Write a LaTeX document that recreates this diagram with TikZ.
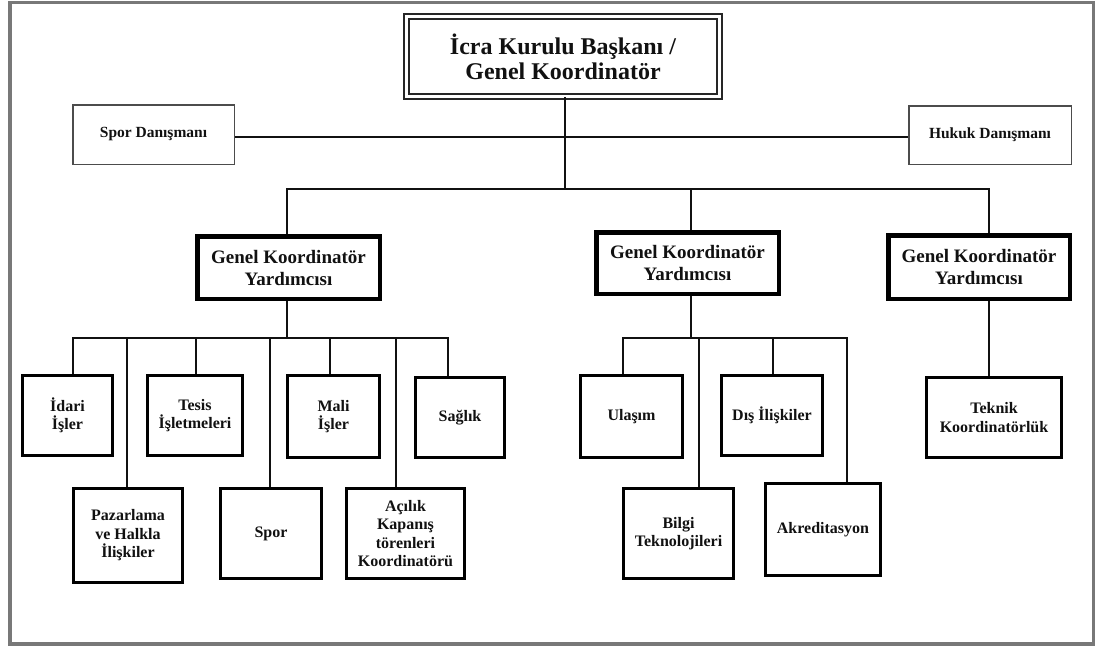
\documentclass[tikz,border=0pt]{standalone}
\usepackage{fontspec}
\setmainfont{Liberation Serif}
\definecolor{framecol}{RGB}{120,120,120}
\definecolor{inkcol}{RGB}{17,17,17}
\begin{document}
\begin{tikzpicture}[x=1pt,y=-1pt,
  conn/.style={draw=inkcol, line width=2pt, line join=miter},
  topbox/.style={draw=black!85, line width=2.2pt, double=white, double distance=3pt,
    align=center, inner sep=0pt, text=inkcol, font=\fontsize{24}{25}\selectfont\bfseries},
  advbox/.style={draw=black!70, line width=1.5pt, inner sep=0pt, text=inkcol,
    font=\fontsize{15.5}{18}\selectfont\bfseries},
  gkybox/.style={draw=black, line width=4.5pt, align=center, inner sep=0pt, text=inkcol,
    font=\fontsize{19}{22}\selectfont\bfseries},
  unitbox/.style={draw=black, line width=3pt, align=center, inner sep=0pt, text=inkcol,
    font=\fontsize{16}{18.5}\selectfont\bfseries}]
\useasboundingbox (0,0) rectangle (1096,648);
\fill[white] (0,0) rectangle (1096,648);
\draw[framecol, line width=3.5pt] (10,2.5) rectangle (1093.5,644);

% top
\node[topbox, minimum width=312.6pt, minimum height=79.6pt] (top) at (563,56.5)
  {İcra Kurulu Başkanı /\\Genel Koordinatör};
\node[advbox, minimum width=161.5pt, minimum height=59.5pt] (spor) at (153.5,134.5) {Spor Danışmanı};
\node[advbox, minimum width=162.5pt, minimum height=58.5pt] (hukuk) at (990,135) {Hukuk Danışmanı};

% deputies
\node[gkybox, minimum width=182.5pt, minimum height=62.5pt] (gky1) at (288.5,267.5) {Genel Koordinatör\\Yardımcısı};
\node[gkybox, minimum width=182.5pt, minimum height=61.5pt] (gky2) at (687.5,263) {Genel Koordinatör\\Yardımcısı};
\node[gkybox, minimum width=181.5pt, minimum height=63.5pt] (gky3) at (979,267) {Genel Koordinatör\\Yardımcısı};

% units under gky1
\node[unitbox, minimum width=90pt, minimum height=80pt] (idari) at (67.5,415.5) {İdari\\İşler};
\node[unitbox, minimum width=95pt, minimum height=80pt] (tesis) at (195,415.5) {Tesis\\İşletmeleri};
\node[unitbox, minimum width=92pt, minimum height=82pt] (mali) at (333.5,416.5) {Mali\\İşler};
\node[unitbox, minimum width=89pt, minimum height=80pt] (saglik) at (460,417.5) {Sağlık};
\node[unitbox, minimum width=109pt, minimum height=94pt] (pazar) at (128,535.5) {Pazarlama\\ve Halkla\\İlişkiler};
\node[unitbox, minimum width=101pt, minimum height=90pt] (sporu) at (271,533.5) {Spor};
\node[unitbox, minimum width=118pt, minimum height=90pt] (acilik) at (405.5,533.5) {Açılık\\Kapanış\\törenleri\\Koordinatörü};

% units under gky2
\node[unitbox, minimum width=102pt, minimum height=82pt] (ulasim) at (631.5,416.5) {Ulaşım};
\node[unitbox, minimum width=101pt, minimum height=80pt] (dis) at (772,415.5) {Dış İlişkiler};
\node[unitbox, minimum width=110pt, minimum height=90pt] (bilgi) at (678.5,533.5) {Bilgi\\Teknolojileri};
\node[unitbox, minimum width=115pt, minimum height=92pt] (akred) at (823,529.5) {Akreditasyon};

% unit under gky3
\node[unitbox, minimum width=135pt, minimum height=80pt] (teknik) at (994,417.5) {Teknik\\Koordinatörlük};

% junction coordinates
\coordinate (h) at (565,137);
\coordinate (j0) at (565,189);
\coordinate (g1) at (287,189);
\coordinate (g2) at (691,189);
\coordinate (g3) at (989,189);
\coordinate (c1) at (287,338);
\coordinate (a1) at (73,338);
\coordinate (a2) at (127,338);
\coordinate (a3) at (196,338);
\coordinate (a4) at (270,338);
\coordinate (a5) at (330,338);
\coordinate (a6) at (396,338);
\coordinate (a7) at (448,338);
\coordinate (c2) at (691,338);
\coordinate (b1) at (623,338);
\coordinate (b2) at (699,338);
\coordinate (b3) at (773,338);
\coordinate (b4) at (847,338);

% connectors
\draw[conn] (spor.east |- h) -- (hukuk.west |- h);
\draw[conn] (top.south -| j0) -- (j0);
\draw[conn] (gky1.north -| g1) -- (g1) -- (g3) -- (gky3.north -| g3);
\draw[conn] (g2) -- (gky2.north -| g2);

\draw[conn] (gky1.south -| c1) -- (c1);
\draw[conn] (idari.north -| a1) -- (a1) -- (a7) -- (saglik.north -| a7);
\draw[conn] (a2) -- (pazar.north -| a2);
\draw[conn] (a3) -- (tesis.north -| a3);
\draw[conn] (a4) -- (sporu.north -| a4);
\draw[conn] (a5) -- (mali.north -| a5);
\draw[conn] (a6) -- (acilik.north -| a6);

\draw[conn] (gky2.south -| c2) -- (c2);
\draw[conn] (ulasim.north -| b1) -- (b1) -- (b4) -- (akred.north -| b4);
\draw[conn] (b2) -- (bilgi.north -| b2);
\draw[conn] (b3) -- (dis.north -| b3);

\draw[conn] (gky3.south -| g3) -- (teknik.north -| g3);
\end{tikzpicture}
\end{document}
